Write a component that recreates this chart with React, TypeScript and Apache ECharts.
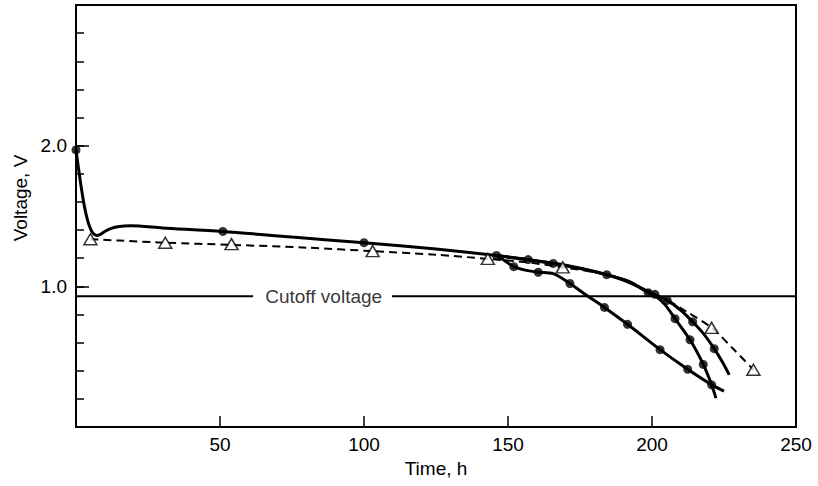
import React, { useEffect, useRef } from "react";
import * as echarts from "echarts";

// ---- data (time in h, voltage in V) ----
const xTicks = [0, 50, 100, 150, 200, 250];
const yLabels = ["1.0", "2.0"];

// shared solid trace (initial voltage spike and plateau)
const solidCommon: number[][] = [
  [0, 1.97], [1, 1.82], [2, 1.68], [3, 1.56], [4, 1.47], [5, 1.41], [6, 1.375],
  [7.2, 1.362], [8.5, 1.37], [10, 1.39], [12, 1.41], [15, 1.425], [19, 1.43],
  [30, 1.415], [51, 1.39], [75, 1.35], [100, 1.31], [125, 1.265], [146, 1.22],
];
const solidCommonDots: number[][] = [[0, 1.97], [51, 1.39], [100, 1.31], [146, 1.22]];

// branch A: earliest fall-off
const branchA: number[][] = [
  [146, 1.22], [149, 1.18], [152, 1.14], [156, 1.115], [160.5, 1.1], [165.7, 1.09],
  [171.5, 1.02], [177, 0.94], [183.5, 0.85], [191.5, 0.73], [202.8, 0.55],
  [212.4, 0.41], [220.7, 0.3], [225, 0.255],
];
const branchADots: number[][] = [
  [152, 1.14], [160.5, 1.1], [171.5, 1.02], [183.5, 0.85], [191.5, 0.73],
  [202.8, 0.55], [212.4, 0.41], [220.7, 0.3],
];

// branch B: steepest end
const branchB: number[][] = [
  [146, 1.22], [157, 1.19], [165.7, 1.163], [176.7, 1.12], [184.3, 1.083],
  [192, 1.035], [198.7, 0.955], [201, 0.935], [204.5, 0.87], [208, 0.77],
  [213.2, 0.62], [217.8, 0.445], [220.7, 0.3], [222.2, 0.205],
];
const branchBDots: number[][] = [
  [157, 1.19], [165.7, 1.163], [184.3, 1.083], [198.7, 0.955], [208, 0.77],
  [213.2, 0.62], [217.8, 0.445],
];

// branch C
const branchC: number[][] = [
  [146, 1.22], [151, 1.205], [160, 1.18], [170, 1.15], [180, 1.105], [190, 1.045],
  [197, 0.98], [201, 0.94], [205.3, 0.9], [210, 0.83], [214.1, 0.748],
  [218, 0.66], [221.6, 0.557], [224.5, 0.46], [226.8, 0.371],
];
const branchCDots: number[][] = [
  [201, 0.943], [205.3, 0.9], [214.1, 0.748], [221.6, 0.557],
];

// dashed series with open triangles
const dashed: number[][] = [
  [5, 1.335], [15, 1.325], [31, 1.31], [54, 1.295], [80, 1.275], [103, 1.25],
  [125, 1.225], [143, 1.195], [157, 1.17], [169, 1.135], [180, 1.1], [190, 1.05],
  [198, 0.97], [205, 0.905], [212, 0.82], [220.7, 0.705], [228, 0.56], [235.2, 0.407],
];
const dashedMarks: number[][] = [
  [5, 1.335], [31, 1.31], [54, 1.3], [103, 1.25], [143, 1.195], [169, 1.135],
  [220.7, 0.705], [235.2, 0.407],
];

// cutoff voltage line, broken by its label
const cutoffV = 0.93;
const cutoffGap = [61.5, 109.7];
const cutoffLabelAt = 86;
const cutoffText = "Cutoff voltage";

const FONT = "'Liberation Sans', Arial, Helvetica, sans-serif";

export default function App() {
  const ref = useRef<HTMLDivElement>(null);
  useEffect(() => {
    if (!ref.current) return;
    const chart = echarts.init(ref.current, null, { renderer: "svg" });
    const solidLine = (data: number[][]) => ({
      type: "line",
      data,
      smooth: 0.3,
      symbol: "none",
      lineStyle: { color: "#000", width: 3 },
      z: 3,
    });
    const dots = (data: number[][]) => ({
      type: "scatter",
      data,
      symbol: "circle",
      symbolSize: 9,
      itemStyle: { color: "#000" },
      z: 5,
    });
    chart.setOption({
      animation: false,
      backgroundColor: "#fff",
      textStyle: { fontFamily: FONT, color: "#000" },
      grid: {
        left: 76,
        right: 22,
        top: 5,
        bottom: 59,
        show: true,
        borderColor: "#000",
        borderWidth: 2,
        backgroundColor: "transparent",
      },
      xAxis: {
        type: "value",
        min: xTicks[0],
        max: xTicks[xTicks.length - 1],
        interval: xTicks[1] - xTicks[0],
        name: "Time, h",
        nameLocation: "middle",
        nameGap: 31,
        nameTextStyle: { fontSize: 19, color: "#000", fontFamily: FONT },
        axisLine: { show: true, lineStyle: { color: "#000", width: 2 } },
        axisTick: { show: true, inside: true, length: 11, lineStyle: { color: "#000", width: 1.5 } },
        axisLabel: {
          fontSize: 19,
          color: "#000",
          fontFamily: FONT,
          margin: 8,
          formatter: (v: number) => (v === 0 ? "" : String(v)),
        },
        splitLine: { show: false },
      },
      yAxis: [
        {
          type: "value",
          position: "left",
          min: 0,
          max: 3,
          interval: 0.2,
          axisLine: { show: true, lineStyle: { color: "#000", width: 2 } },
          axisTick: { show: true, inside: true, length: 8, lineStyle: { color: "#000", width: 1.5 } },
          axisLabel: { show: false },
          splitLine: { show: false },
        },
        {
          type: "value",
          position: "left",
          offset: 0,
          min: 0,
          max: 3,
          interval: 1,
          axisLine: { show: false },
          axisTick: { show: true, inside: true, length: 13, lineStyle: { color: "#000", width: 1.5 } },
          axisLabel: {
            fontSize: 19,
            color: "#000",
            fontFamily: FONT,
            margin: 9,
            formatter: (v: number) => {
              const s = v.toFixed(1);
              return yLabels.indexOf(s) >= 0 ? s : "";
            },
          },
          splitLine: { show: false },
        },
      ],
      graphic: [
        {
          type: "text",
          x: 20,
          y: 198,
          rotation: Math.PI / 2,
          style: {
            text: "Voltage, V",
            font: `19px ${FONT}`,
            fill: "#000",
            textAlign: "center",
            textVerticalAlign: "middle",
          },
        },
      ],
      series: [
        {
          type: "line",
          data: [[0, cutoffV], [cutoffGap[0], cutoffV]],
          symbol: "none",
          lineStyle: { color: "#000", width: 2 },
          z: 2,
        },
        {
          type: "line",
          data: [[cutoffGap[1], cutoffV], [250, cutoffV]],
          symbol: "none",
          lineStyle: { color: "#000", width: 2 },
          z: 2,
        },
        {
          type: "scatter",
          data: [[cutoffLabelAt, cutoffV]],
          symbol: "circle",
          symbolSize: 1,
          itemStyle: { color: "rgba(0,0,0,0)" },
          label: {
            show: true,
            position: "inside",
            formatter: cutoffText,
            fontSize: 19,
            color: "#000",
            fontFamily: FONT,
          },
          z: 2,
        },
        solidLine(solidCommon),
        solidLine(branchA),
        solidLine(branchB),
        solidLine(branchC),
        {
          type: "line",
          data: dashed,
          smooth: 0.3,
          symbol: "none",
          lineStyle: { color: "#000", width: 2, type: [8, 5] },
          z: 3,
        },
        dots(solidCommonDots),
        dots(branchADots),
        dots(branchBDots),
        dots(branchCDots),
        {
          type: "scatter",
          data: dashedMarks,
          symbol: "triangle",
          symbolSize: [13, 11],
          itemStyle: { color: "#fff", borderColor: "#000", borderWidth: 1.5 },
          z: 6,
        },
      ],
    });
    return () => chart.dispose();
  }, []);
  return (
    <div
      ref={ref}
      style={{ position: "absolute", left: 0, top: 0, width: 818, height: 486 }}
    />
  );
}
